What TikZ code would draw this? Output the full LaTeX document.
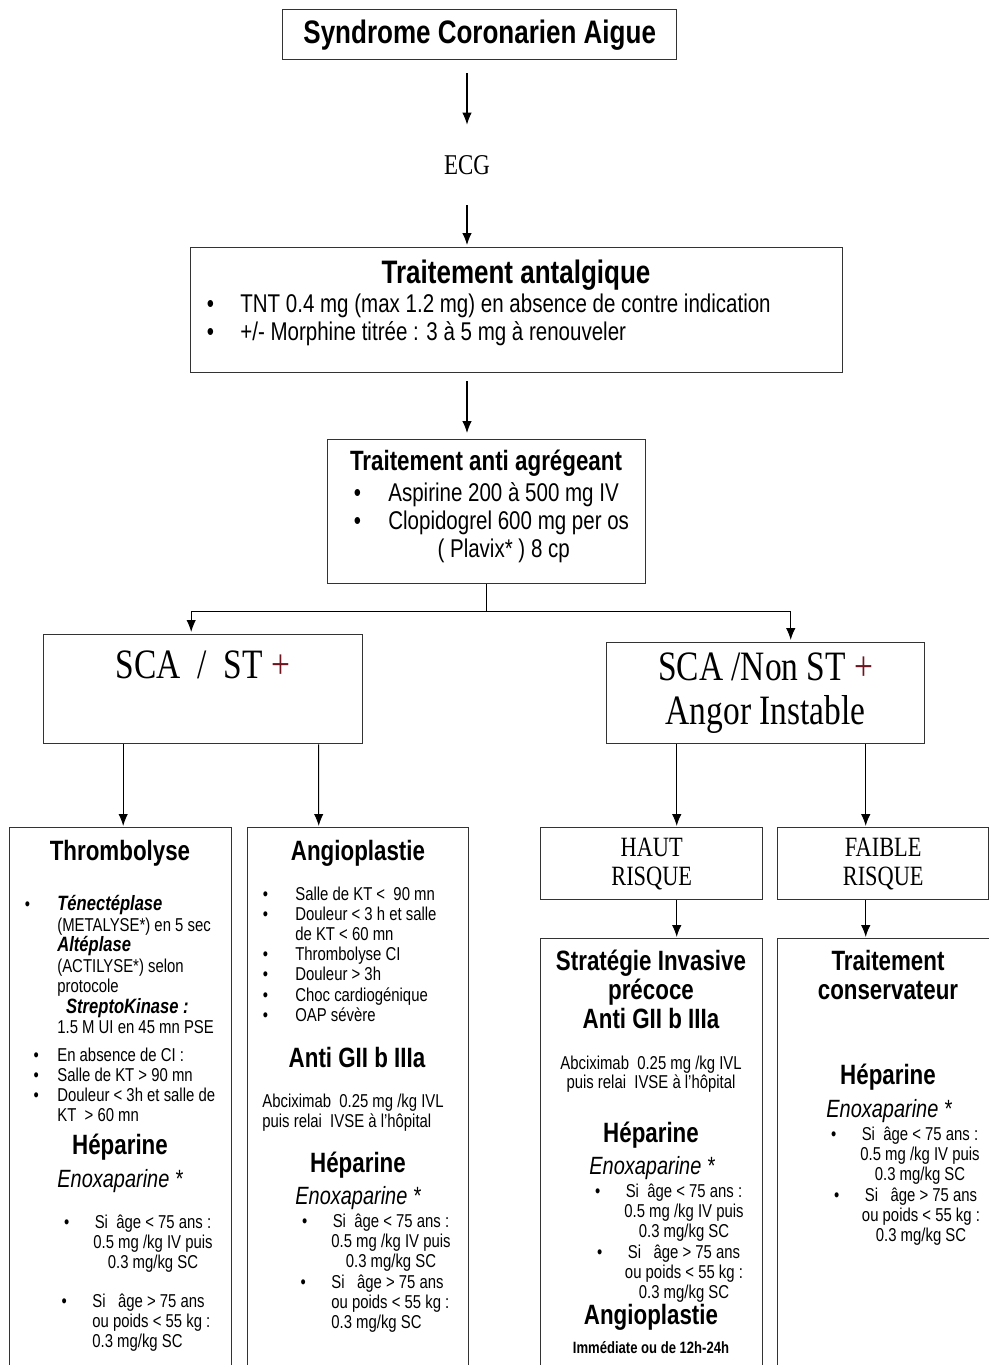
\documentclass[tikz,border=0pt]{standalone}
\usepackage{fontspec}
\setmainfont[FakeStretch=0.8]{Liberation Sans}
\newfontfamily\romain[FakeStretch=0.8]{Liberation Serif}
\usepackage{xcolor}
\usetikzlibrary{arrows.meta, positioning, calc}

\definecolor{bordeaux}{RGB}{110,20,30}
\newcommand{\puce}[1][14.5pt]{\llap{\textbullet\hspace{#1}}}
\newcommand{\molecule}[1]{{\fontsize{11.8}{11.7}\selectfont\bfseries\itshape #1}}
\newcommand{\doseA}{\puce Si\ \ âge < 75 ans :\\ 0.5 mg /kg IV puis\\ 0.3 mg/kg SC}
\newcommand{\doseB}{\puce Si\ \ \ âge > 75 ans\\ ou poids < 55 kg :\\ 0.3 mg/kg SC}

\tikzset{
  cadre/.style 2 args={draw=black!80, line width=0.8pt, anchor=north west, inner sep=0pt,
    minimum width=#1*0.02cm, minimum height=#2*0.02cm},
  fleche/.style={-{Latex[length=0.24cm,width=0.19cm]}, line width=0.6pt},
  txt/.style={inner sep=0pt, anchor=north},
  gros/.style={txt, font=\fontsize{18.5}{20}\selectfont\bfseries},
  grand/.style={txt, align=center, font=\fontsize{15.9}{16.3}\selectfont\bfseries},
  corps/.style={txt, anchor=north west, align=left, font=\fontsize{14.6}{15.9}\selectfont},
  petit/.style={txt, font=\fontsize{10.6}{11.4}\selectfont},
  enox/.style={txt, anchor=north west, font=\fontsize{14.2}{15}\selectfont\itshape},
  serif/.style={font=\romain\fontsize{23.8}{25}\selectfont},
  risque/.style={align=center, font=\romain\fontsize{15.9}{16.5}\selectfont},
}

\begin{document}
\begin{tikzpicture}[x=0.02cm, y=-0.02cm]
  \useasboundingbox (0,0) rectangle (989,1365);

  % Haut du schema
  \node[cadre={394}{50}, font=\fontsize{18.5}{20}\selectfont\bfseries] (titre) at (282,9)
    {Syndrome Coronarien Aigue};
  \node[inner sep=0pt, minimum height=80*0.02cm, font=\romain\fontsize{16.3}{18}\selectfont]
    (ecg) at (467,165) {ECG};
  \draw[fleche] ($(titre.south -| ecg.north)+(0,13)$) -- (ecg.north);

  % Traitement antalgique
  \node[cadre={652}{125}] (anta) at (190,247) {};
  \draw[fleche] (ecg.south) -- ($(ecg.south |- anta.north)+(0,-2)$);
  \node[gros] (anta-titre) at (516,260) {Traitement antalgique};
  \node[corps] (anta-liste) at (240,294)
    {\puce[15pt]TNT 0.4 mg (max 1.2 mg) en absence de contre indication\\
     \puce[15pt]+/- Morphine titrée : 3 à 5 mg à renouveler};

  % Traitement anti agregeant
  \node[cadre={318}{144}] (agreg) at (327,439) {};
  \draw[fleche] ($(anta.south -| ecg.south)+(0,8)$) -- ($(agreg.north -| ecg.south)+(0,-6)$);
  \node[grand] (agreg-titre) at (486,450) {Traitement anti agrégeant};
  \node[corps] (agreg-liste) at (388,482)
    {\puce[15.6pt]Aspirine 200 à 500 mg IV\\
     \puce[15.6pt]Clopidogrel 600 mg per os\\
     \hspace*{28pt}( Plavix* ) 8 cp};

  % SCA
  \coordinate (embr) at ($(agreg.south)+(0,27)$);
  \draw[line width=0.6pt] (agreg.south) -- (embr);
  \node[cadre={319}{109}] (st) at (43,634) {};
  \node[txt, serif] (st-texte) at (203,650) {SCA\ \ /\ \ ST \textcolor{bordeaux}{+}};
  \node[cadre={318}{101}, align=center, serif] (nst) at (606,642)
    {SCA /Non ST \textcolor{bordeaux}{+}\\Angor Instable};
  \draw[fleche] (embr) -| ($(st.north)+(-12,-2)$);
  \draw[fleche] (embr) -| ($(nst.north)+(25,-2)$);

  % Thrombolyse / Angioplastie / risque
  \node[cadre={222}{560}] (thromb) at (9,827) {};
  \node[cadre={221}{560}] (angio) at (247,827) {};
  \node[cadre={222}{72}, risque] (haut) at (540,827) {HAUT\\RISQUE};
  \node[cadre={211}{72}, risque] (faible) at (777,827) {FAIBLE\\RISQUE};
  \draw[fleche] ($(st.south)+(-80,0)$) -- ($(thromb.north)+(2.5,-1)$);
  \draw[fleche] ($(st.south)+(115.5,0)$) -- ($(angio.north)+(-39.5,-1)$);
  \draw[fleche] ($(nst.south)+(-89,0)$) -- ($(haut.north)+(25,-1)$);
  \draw[fleche] ($(nst.south)+(100,0)$) -- ($(faible.north)+(-17.5,-1)$);

  \node[cadre={222}{450}] (strat) at (540,938) {};
  \node[cadre={240}{450}] (conserv) at (777,938) {};
  \draw[fleche] ($(haut.south)+(25,0)$) -- ($(strat.north)+(25,-1)$);
  \draw[fleche] ($(faible.south)+(-17.5,0)$) -- ($(conserv.north)+(-32,-1)$);

  % Contenu Thrombolyse
  \node[grand] (thromb-titre) at (120,840) {Thrombolyse};
  \node[petit, anchor=north west, align=left, font=\fontsize{10.6}{11.7}\selectfont]
    (thromb-liste) at (57,895)
    {\puce[15.5pt]\molecule{Ténectéplase}\\
     (METALYSE*) en 5 sec\\
     \molecule{Altéplase}\\
     (ACTILYSE*) selon\\
     protocole\\
     \hspace*{5pt}\molecule{StreptoKinase :}\\
     1.5 M UI en 45 mn PSE};
  \node[petit, anchor=north west, align=left] (thromb-ci) at (57,1048)
    {\puce[10.5pt]En absence de CI :\\
     \puce[10.5pt]Salle de KT > 90 mn\\
     \puce[10.5pt]Douleur < 3h et salle de\\
     KT\ \ > 60 mn};
  \node[grand] (thromb-hep) at (120,1134) {Héparine};
  \node[enox] (thromb-enox) at (57,1169) {Enoxaparine *};
  \node[petit, align=center] (thromb-d1) at (153,1215) {\doseA};
  \node[petit, anchor=north west, align=left] (thromb-d2) at (92,1294) {\doseB};

  % Contenu Angioplastie
  \node[grand] (angio-titre) at (358,840) {Angioplastie};
  \node[petit, anchor=north west, align=left] (angio-liste) at (295,887)
    {\puce[15.5pt]Salle de KT <\ \ 90 mn\\
     \puce[15.5pt]Douleur < 3 h et salle\\
     de KT < 60 mn\\
     \puce[15.5pt]Thrombolyse CI\\
     \puce[15.5pt]Douleur > 3h\\
     \puce[15.5pt]Choc cardiogénique\\
     \puce[15.5pt]OAP sévère};
  \node[grand] (angio-anti) at (357,1047) {Anti GII b IIIa};
  \node[petit, anchor=north west, align=left] (angio-abcix) at (262,1094)
    {Abciximab\ \ 0.25 mg /kg IVL\\ puis relai\ \ IVSE à l'hôpital};
  \node[grand] (angio-hep) at (358,1152) {Héparine};
  \node[enox] (angio-enox) at (295,1186) {Enoxaparine *};
  \node[petit, align=center] (angio-d1) at (391,1214) {\doseA};
  \node[petit, anchor=north west, align=left] (angio-d2) at (331,1275) {\doseB};

  % Contenu Strategie invasive
  \node[grand] (strat-titre) at (651,950) {Stratégie Invasive\\précoce\\Anti GII b IIIa};
  \node[petit, align=center, font=\fontsize{10.6}{10.4}\selectfont] (strat-abcix) at (651,1056)
    {Abciximab\ \ 0.25 mg /kg IVL\\ puis relai\ \ IVSE à l'hôpital};
  \node[grand] (strat-hep) at (651,1122) {Héparine};
  \node[enox] (strat-enox) at (589,1156) {Enoxaparine *};
  \node[petit, align=center] (strat-d1) at (684,1184) {\doseA};
  \node[petit, align=center] (strat-d2) at (684,1245) {\doseB};
  \node[grand] (strat-angio) at (651,1304) {Angioplastie};
  \node[txt, font=\fontsize{9.3}{10}\selectfont\bfseries] (strat-delai) at (651,1341)
    {Immédiate ou de 12h-24h};

  % Contenu Traitement conservateur
  \node[grand] (conserv-titre) at (888,950) {Traitement\\conservateur};
  \node[grand] (conserv-hep) at (888,1064) {Héparine};
  \node[enox] (conserv-enox) at (826,1099) {Enoxaparine *};
  \node[petit, align=center] (conserv-d1) at (920,1127) {\doseA};
  \node[petit, align=center] (conserv-d2) at (921,1188) {\doseB};
\end{tikzpicture}
\end{document}
